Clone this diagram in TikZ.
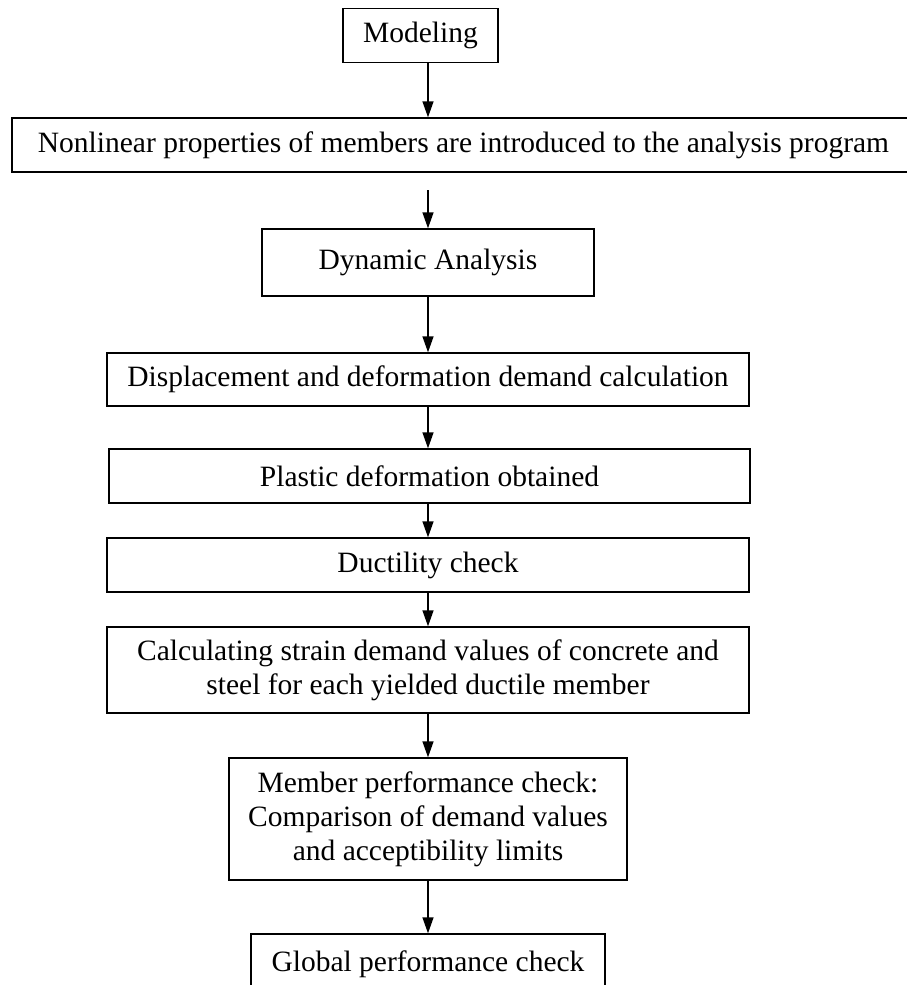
\documentclass[tikz,border=0pt]{standalone}
\usepackage{fontspec}
\setmainfont{Liberation Serif}
\usetikzlibrary{arrows.meta}
\begin{document}
\begin{tikzpicture}[x=1pt,y=-1pt,
  box/.style={draw,line width=1.4pt,inner sep=0pt,align=center,
    font=\fontsize{29.5}{34}\selectfont},
  arr/.style={line width=1.4pt,-{Triangle[length=16pt,width=11pt]}}]
\useasboundingbox (0,0) rectangle (906,985);
\node[box,minimum width=155pt,minimum height=54pt] (mod) at (420.5,35.5) {Modeling};
\node[box,minimum width=910pt,minimum height=54pt] (nl) at (467,145) {};
\node[font=\fontsize{29.5}{34}\selectfont,inner sep=0pt] (nlt) at (463.5,145) {Nonlinear properties of members are introduced to the analysis program};
\coordinate (nls) at (428,190);
\node[box,minimum width=332pt,minimum height=67pt] (dyn) at (428,262.5) {Dynamic Analysis};
\node[box,minimum width=642pt,minimum height=53pt] (disp) at (428,379.5) {Displacement and deformation demand calculation};
\node[box,minimum width=641pt,minimum height=54pt] (pla) at (429.5,476) {Plastic deformation obtained};
\node[box,minimum width=642pt,minimum height=54pt] (duc) at (428,565) {Ductility check};
\node[box,minimum width=642pt,minimum height=86pt] (calc) at (428,670) {Calculating strain demand values of concrete and\\steel for each yielded ductile member};
\node[box,minimum width=398pt,minimum height=122pt] (mem) at (428,819) {Member performance check:\\Comparison of demand values\\and acceptibility limits};
\node[box,minimum width=354pt,minimum height=60pt] (glob) at (428,964) {Global performance check};
\draw[arr] (mod.south -| dyn.center) -- (nl.north -| dyn.center);
\draw[arr] (nls) -- (dyn.north);
\draw[arr] (dyn.south) -- (disp.north);
\draw[arr] (disp.south) -- (pla.north -| disp.center);
\draw[arr] (pla.south -| disp.center) -- (duc.north);
\draw[arr] (duc.south) -- (calc.north);
\draw[arr] (calc.south) -- (mem.north);
\draw[arr] (mem.south) -- (glob.north);
\end{tikzpicture}
\end{document}
